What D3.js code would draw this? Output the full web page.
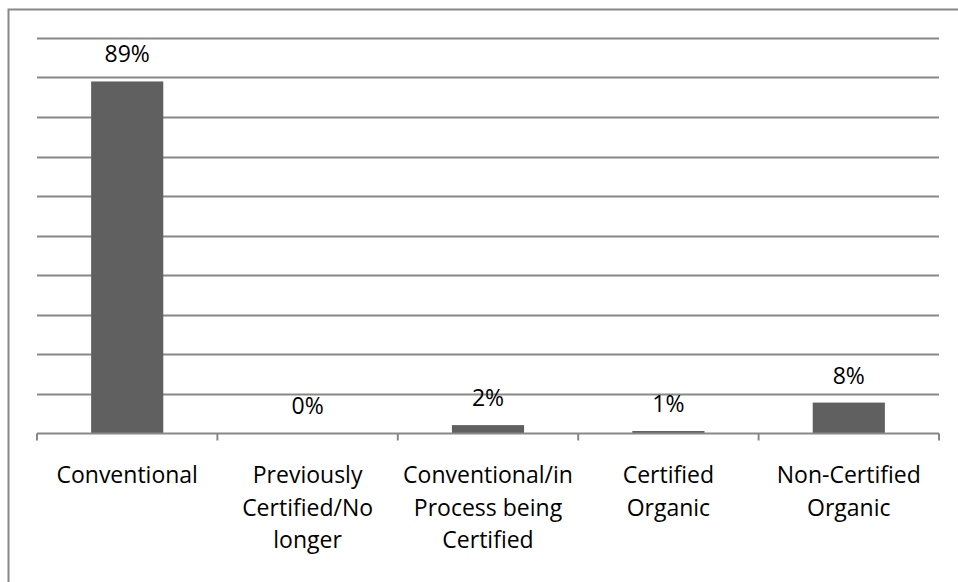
<!DOCTYPE html>
<html>
<head>
<meta charset="utf-8">
<script src="https://cdn.jsdelivr.net/npm/d3@7"></script>
<style>
  html, body { margin: 0; padding: 0; background: #fff; }
  svg { display: block; }
</style>
</head>
<body>
<svg id="chart" width="958" height="582"></svg>
<script>
const categories = [
  "Conventional",
  "Previously\nCertified/No\nlonger",
  "Conventional/in\nProcess being\nCertified",
  "Certified\nOrganic",
  "Non-Certified\nOrganic"
];
const values = [89, 0, 2, 0.5, 7.7];
const yTicks = [0, 10, 20, 30, 40, 50, 60, 70, 80, 90, 100];

const svg = d3.select("#chart");
const W = 958, H = 582;
const margin = { left: 37, right: 19, top: 38, bottom: 149 };
const plotW = W - margin.left - margin.right;
const plotH = H - margin.top - margin.bottom;
const font = "'Open Sans', 'Noto Sans', sans-serif";
const gray = "#888888";

// outer chart border (extends past viewport on right and bottom)
svg.append("rect")
  .attr("x", 8.5).attr("y", 9.5)
  .attr("width", 1200).attr("height", 1200)
  .attr("fill", "none").attr("stroke", gray).attr("stroke-width", 2);

const g = svg.append("g").attr("transform", `translate(${margin.left},${margin.top})`);

const x = d3.scaleBand().domain(categories).range([0, plotW]).paddingInner(0.6).paddingOuter(0.3);
const xb = d3.scaleBand().domain(categories).range([0, plotW]);
const y = d3.scaleLinear().domain([0, 100]).range([plotH, 0]);

// gridlines
g.append("g").selectAll("line").data(yTicks.filter(t => t > 0)).join("line")
  .attr("x1", 0).attr("x2", plotW)
  .attr("y1", d => Math.round(y(d)) + 0.5).attr("y2", d => Math.round(y(d)) + 0.5)
  .attr("stroke", gray).attr("stroke-width", 2);

// bars
g.append("g").selectAll("rect").data(values).join("rect")
  .attr("x", (d, i) => x(categories[i]))
  .attr("width", x.bandwidth())
  .attr("y", d => y(d))
  .attr("height", d => plotH - y(d))
  .attr("fill", "#606060");

// x axis line and ticks
const axisY = Math.round(plotH) + 0.5;
g.append("line").attr("x1", 0).attr("x2", plotW).attr("y1", axisY).attr("y2", axisY)
  .attr("stroke", gray).attr("stroke-width", 2);
const tickPos = categories.map(c => xb(c)).concat([plotW]);
g.append("g").selectAll("line").data(tickPos).join("line")
  .attr("x1", d => d).attr("x2", d => d)
  .attr("y1", axisY).attr("y2", axisY + 7)
  .attr("stroke", gray).attr("stroke-width", 2);

// value labels
g.append("g").selectAll("text").data(values).join("text")
  .attr("x", (d, i) => xb(categories[i]) + xb.bandwidth() / 2)
  .attr("y", d => y(d) - 19)
  .attr("text-anchor", "middle")
  .attr("font-family", font).attr("font-size", 23)
  .attr("fill", "#000")
  .text(d => Math.round(d) + "%");

// category labels
const catG = g.append("g");
categories.forEach((c, i) => {
  const t = catG.append("text")
    .attr("x", xb(c) + xb.bandwidth() / 2)
    .attr("y", 483 - margin.top)
    .attr("text-anchor", "middle")
    .attr("font-family", font).attr("font-size", 23)
    .attr("fill", "#000");
  c.split("\n").forEach((line, j) => {
    t.append("tspan")
      .attr("x", xb(c) + xb.bandwidth() / 2)
      .attr("dy", j === 0 ? 0 : 32.5)
      .text(line);
  });
});
</script>
</body>
</html>
